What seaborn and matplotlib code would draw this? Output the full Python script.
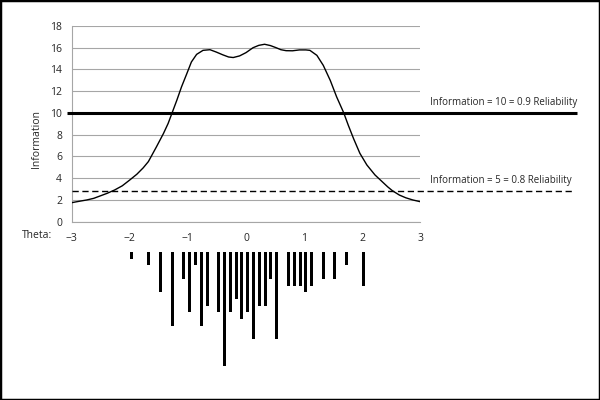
import numpy as np
import pandas as pd
import seaborn as sns
import matplotlib.pyplot as plt
from matplotlib.patches import Rectangle

# --- data ---
THETA = [-3.0, -2.91, -2.74, -2.62, -2.5, -2.39, -2.26, -2.13, -2.0, -1.88, -1.77,
         -1.68, -1.54, -1.42, -1.34, -1.27, -1.19, -1.11, -1.02, -0.94, -0.85,
         -0.74, -0.62, -0.51, -0.4, -0.3, -0.22, -0.11,
         0.0, 0.12, 0.22, 0.32, 0.42, 0.52, 0.6, 0.69, 0.8, 0.92, 1.03, 1.1, 1.22,
         1.33, 1.45, 1.56, 1.68, 1.76, 1.85, 1.96, 2.08, 2.22, 2.35, 2.44, 2.52,
         2.64, 2.75, 2.87, 3.0]
INFO = [1.75, 1.84, 2.0, 2.15, 2.39, 2.61, 2.92, 3.3, 3.84, 4.36, 4.95,
        5.53, 6.9, 8.12, 9.04, 10.04, 11.18, 12.4, 13.6, 14.69, 15.39,
        15.76, 15.82, 15.6, 15.35, 15.15, 15.1, 15.25,
        15.55, 16.0, 16.22, 16.32, 16.2, 16.0, 15.82, 15.73, 15.72, 15.8, 15.8, 15.76, 15.3,
        14.38, 13.0, 11.48, 10.04, 8.88, 7.66, 6.29, 5.22, 4.3, 3.65, 3.2, 2.85,
        2.45, 2.2, 2.0, 1.84]

ITEM_B = [-1.97, -1.67, -1.47, -1.27, -1.07, -0.97, -0.87, -0.77, -0.67, -0.47,
          -0.37, -0.27, -0.17, -0.07, 0.03, 0.13, 0.23, 0.33, 0.43, 0.53,
          0.73, 0.83, 0.93, 1.03, 1.13, 1.33, 1.53, 1.73, 2.03]
ITEM_N = [1, 2, 6, 11, 4, 9, 2, 11, 8, 9,
          17, 9, 7, 10, 9, 13, 8, 8, 4, 13,
          5, 5, 5, 6, 5, 4, 4, 2, 5]

REL_90 = 10.0
REL_80 = 2.85
LABEL_90 = "Information = 10 = 0.9 Reliability"
LABEL_80 = "Information = 5 = 0.8 Reliability"

W, H = 600, 400
FONT = "Open Sans"
GRID = "#a6a6a6"


def px(x, y):
    return x / W, 1 - y / H


sns.set_style("white")
plt.rcParams["font.family"] = [FONT, "DejaVu Sans"]
plt.rcParams["font.size"] = 7

fig = plt.figure(figsize=(6, 4), dpi=100)

# main information curve
left, right, top, bottom = 71.7, 420.3, 26.0, 221.7
ax = fig.add_axes([left / W, 1 - bottom / H, (right - left) / W, (bottom - top) / H])
df = pd.DataFrame({"Theta": THETA, "Information": INFO})
sns.lineplot(data=df, x="Theta", y="Information", color="black", linewidth=1.0, ax=ax, zorder=3)

ax.set_xlim(-3, 3)
ax.set_ylim(0, 18)
ax.set_xticks(np.arange(-3, 4, 1))
ax.set_xticks(np.arange(-3, 3.5, 0.5), minor=True)
ax.set_yticks(np.arange(0, 19, 2))
ax.tick_params(axis="x", which="both", direction="out", length=3, color=GRID, pad=5, labelsize=7.5)
ax.tick_params(axis="y", direction="out", length=3, color=GRID, pad=4, labelsize=7.5)
ax.yaxis.grid(True, color=GRID, linewidth=0.8)
ax.xaxis.grid(False)
for s in ["top", "right"]:
    ax.spines[s].set_visible(False)
for s in ["left", "bottom"]:
    ax.spines[s].set_color(GRID)
    ax.spines[s].set_linewidth(0.8)
ax.set_xlabel("")
ax.set_ylabel("")

# reliability lines run past the plot area
ax.plot([-3.08, 5.69], [REL_90, REL_90], color="black", linewidth=2.2, clip_on=False, zorder=4,
        solid_capstyle="butt")
ax.plot([-3.0, 5.63], [REL_80, REL_80], color="black", linewidth=1.0, dashes=(4.5, 2.6),
        clip_on=False, zorder=4)

fig.text(*px(430, 103), LABEL_90, ha="left", va="center", fontsize=7)
fig.text(*px(430, 181), LABEL_80, ha="left", va="center", fontsize=7)
fig.text(*px(37, 139), "Information", rotation=90, ha="center", va="center", fontsize=7.5)
fig.text(*px(37.5, 236), "Theta:", ha="center", va="center", fontsize=7.5)

# item difficulty bars hanging below
bar_top, bar_bot = 252.0, 392.0
ax2 = fig.add_axes([left / W, 1 - bar_bot / H, (right - left) / W, (bar_bot - bar_top) / H])
items = pd.DataFrame({"b": ITEM_B, "n": ITEM_N})
sns.barplot(data=items, x="b", y="n", native_scale=True, color="black", saturation=1,
            width=0.52, errorbar=None, linewidth=0, ax=ax2)
ax2.set_xlim(-3, 3)
ax2.set_ylim((bar_bot - bar_top) / 6.7, 0)
ax2.axis("off")

fig.patches.append(Rectangle((0, 0), 1, 1, transform=fig.transFigure, fill=False,
                             edgecolor="black", linewidth=2.5, zorder=10))

fig.savefig("out.png", dpi=100)
